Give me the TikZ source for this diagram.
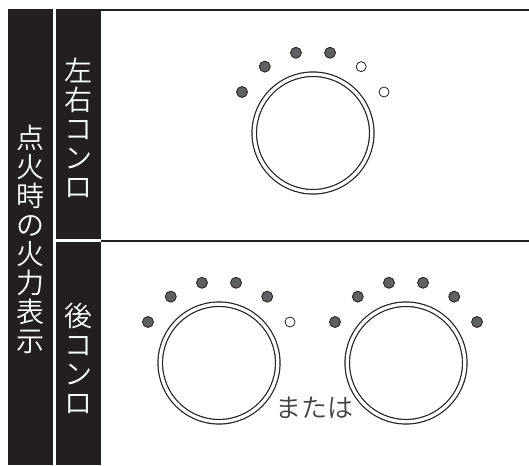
\documentclass[tikz,border=0pt]{standalone}
\usepackage{fontspec}
\setmainfont{Noto Sans CJK JP}[UprightFont=* DemiLight]
\definecolor{ink}{HTML}{231F20}
\definecolor{knob}{HTML}{5F6062}
\begin{document}
\begin{tikzpicture}[x=1pt, y=1pt,
    band/.style={fill=ink, draw=none},
    vlab/.style={text=white, font=\fontsize{28}{29}\selectfont, align=center, inner sep=0pt},
    dial/.style={circle, draw=ink, line width=1.2pt, double=white, double distance=3.3pt, minimum size=117.5pt, inner sep=0pt},
    ondot/.style={circle, draw=ink, fill=knob, line width=0.8pt, minimum size=11pt, inner sep=0pt},
    offdot/.style={circle, draw=ink, fill=white, line width=0.8pt, minimum size=10pt, inner sep=0pt}]
\useasboundingbox (0,0) rectangle (529,465);
% black bands
\fill[band] (8,0) rectangle (53,456);
\fill[band] (56,226) rectangle (101,456);
\fill[band] (56,0) rectangle (101,223);
\node[vlab] (title) at (30.5,226) {点\\火\\時\\の\\火\\力\\表\\示};
\node[vlab] (lr) at (78.5,337) {左\\右\\コ\\ン\\ロ};
\node[vlab] (rear) at (78.5,107) {後\\コ\\ン\\ロ};
% rules
\coordinate (t0) at (101,454.5);
\coordinate (t1) at (529,454.5);
\coordinate (m0) at (101,224.3);
\coordinate (m1) at (529,224.3);
\draw[ink, line width=2pt] (t0)--(t1);
\draw[ink, line width=2.2pt] (m0)--(m1);
% dials
\foreach \s/\cx/\cy/\nf in {a/313/332/4, b/219/102/5, c/406/102/6} {
    \begin{scope}[shift={(\cx,\cy)}]
        \node[dial] (dial\s) at (0,0) {};
        \foreach \k in {1,...,6} {
            \pgfmathsetmacro\ang{174-24*\k}
            \ifnum\k>\nf
                \node[offdot] (dot\s\k) at (\ang:82) {};
            \else
                \node[ondot] (dot\s\k) at (\ang:82) {};
            \fi
        }
    \end{scope}
}
\node[text=ink!85, font=\fontsize{26}{26}\selectfont, inner sep=0pt] (or) at (314,57) {または};
\end{tikzpicture}
\end{document}
